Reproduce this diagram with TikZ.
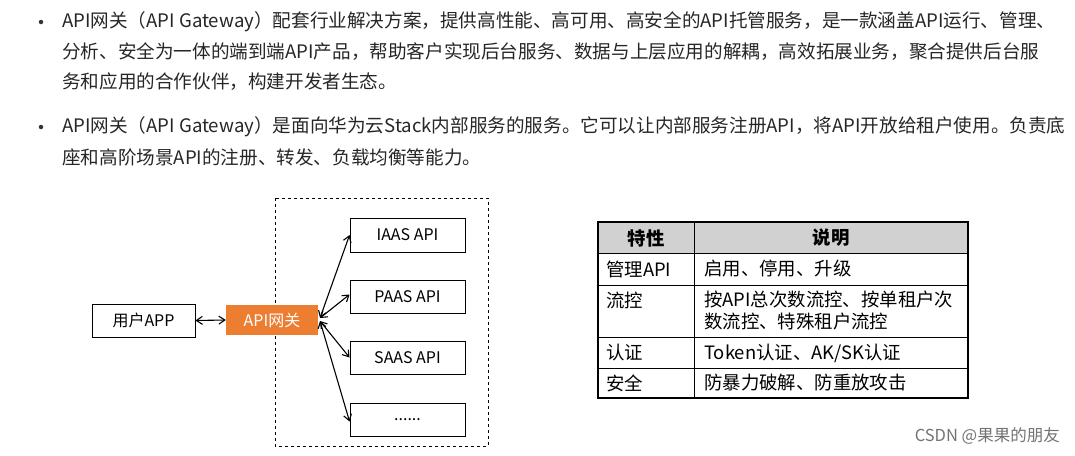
\documentclass[tikz,border=0pt]{standalone}
\usepackage{fontspec}
\usetikzlibrary{arrows.meta}
\setmainfont{Noto Sans CJK SC}
\begin{document}
\begin{tikzpicture}[x=1pt,y=-1pt,
  txt/.style={anchor=west,inner sep=0,font=\fontsize{18.6}{20}\selectfont,text=black!85},
  bul/.style={circle,fill=black!80,inner sep=0,minimum size=4.5pt},
  box/.style={draw=black,line width=0.9pt,fill=white,font=\fontsize{16}{18}\selectfont},
  arr/.style={{Straight Barb[length=6pt,width=8pt]}-{Straight Barb[length=6pt,width=8pt]},line width=1.1pt},
  cell/.style={anchor=west,inner sep=0,font=\fontsize{18.4}{20}\selectfont}]
\useasboundingbox (0,0) rectangle (1075,455);
\node[bul] (b1) at (41,22) {};
\node[txt] (l1) at (62,22) {API网关（API Gateway）配套行业解决方案，提供高性能、高可用、高安全的API托管服务，是一款涵盖API运行、管理、};
\node[txt] (l2) at (62,52) {分析、安全为一体的端到端API产品，帮助客户实现后台服务、数据与上层应用的解耦，高效拓展业务，聚合提供后台服};
\node[txt] (l3) at (62,82) {务和应用的合作伙伴，构建开发者生态。};
\node[bul] (b2) at (41,127) {};
\node[txt] (l4) at (62,127) {API网关（API Gateway）是面向华为云Stack内部服务的服务。它可以让内部服务注册API，将API开放给租户使用。负责底};
\node[txt] (l5) at (62,157) {座和高阶场景API的注册、转发、负载均衡等能力。};
% diagram
\draw[dashed,line width=0.8pt] (275,198) rectangle (488,446);
\node[box,minimum width=103pt,minimum height=33pt] (app) at (143.5,320.5) {用户APP};
\node[fill={rgb,255:red,237;green,125;blue,49},text=white,minimum width=92pt,minimum height=30pt,font=\fontsize{16}{18}\selectfont] (gw) at (272,320) {API网关};
\node[box,minimum width=115pt,minimum height=34pt] (iaas) at (407.5,235) {IAAS API};
\node[box,minimum width=115pt,minimum height=33pt] (paas) at (407.5,296.5) {PAAS API};
\node[box,minimum width=115pt,minimum height=33pt] (saas) at (407.5,357.5) {SAAS API};
\node[box,minimum width=115pt,minimum height=33pt] (more) at (407.5,419.5) {......};
\draw[arr] (app.east) -- (gw.west);
\coordinate (g1) at (320,318);
\coordinate (g2) at (320,321);
\draw[arr] (g1) -- (iaas.west);
\draw[arr] (g1) -- ([yshift=2pt]paas.west);
\draw[arr] (g2) -- (saas.west);
\draw[arr] (g2) -- ([yshift=-2pt]more.west);
% table
\fill[black!18] (598,222) rectangle (968,253);
\draw[line width=0.7pt] (598,253) -- (968,253) (598,285) -- (968,285) (598,337) -- (968,337) (598,368) -- (968,368) (694,222) -- (694,398);
\draw[line width=1.6pt] (598,222) rectangle (968,398);
\node[font=\bfseries\fontsize{18.4}{20}\selectfont,inner sep=0] (h1) at (646,238) {特性};
\node[font=\bfseries\fontsize{18.4}{20}\selectfont,inner sep=0] (h2) at (831,238) {说明};
\node[cell] (a1) at (606,269) {管理API};
\node[cell] (c1) at (704,269) {启用、停用、升级};
\node[cell] (a2) at (606,300) {流控};
\node[cell] (c2) at (704,300) {按API总次数流控、按单租户次};
\node[cell] (c2b) at (704,322) {数流控、特殊租户流控};
\node[cell] (a3) at (606,353) {认证};
\node[cell] (c3) at (704,353) {Token认证、AK/SK认证};
\node[cell] (a4) at (606,383) {安全};
\node[cell] (c4) at (704,383) {防暴力破解、防重放攻击};
\node[anchor=east,inner sep=0,text=black!55,font=\fontsize{16.5}{18}\selectfont] (wm) at (1060,436) {CSDN @果果的朋友};
\end{tikzpicture}
\end{document}
